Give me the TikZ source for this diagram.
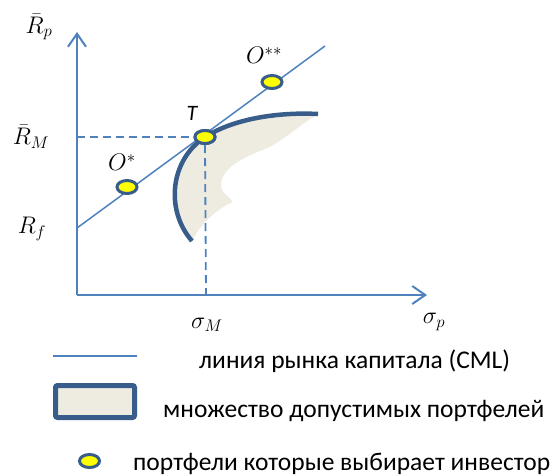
\RequirePackage{fix-cm}
\documentclass[tikz,border=0pt]{standalone}
\usepackage{fontspec}
\setmainfont{Carlito}
\usetikzlibrary{positioning, arrows.meta, shapes.geometric}
\definecolor{axisblue}{RGB}{79, 129, 189}
\definecolor{frontier}{RGB}{56, 93, 138}
\definecolor{feasible}{RGB}{238, 236, 225}
\definecolor{dotyellow}{RGB}{255, 255, 0}

\begin{document}
\begin{tikzpicture}[
            x=1pt, y=-1pt,
            axis/.style={axisblue, line width=2pt, -{Straight Barb[length=13pt, width=18pt]}},
            cml/.style={axisblue, line width=1.5pt},
            guide/.style={axisblue, line width=1.8pt, dash pattern=on 8pt off 5pt},
            portfolio/.style={ellipse, draw=frontier, line width=3pt, fill=dotyellow, minimum width=20pt, minimum height=13pt, inner sep=0pt},
            mathlabel/.style={font=\fontsize{24}{28}\selectfont, inner sep=0pt},
            legendtext/.style={font=\fontsize{25.5}{30}\selectfont, anchor=base west, inner sep=0pt}
        ]
            \useasboundingbox (0,0) rectangle (560,475);
            % axes
            \coordinate (origin) at (77,295);
            \coordinate (ytip) at (77,32);
            \coordinate (xtip) at (427,295);
            \coordinate (rf) at (77,228);
            \coordinate (cmlend) at (325,46);
            \coordinate (rm) at (77,137);
            \coordinate (sm) at (206,295);
            \draw [axis] (origin) -- (ytip);
            \draw [axis] (origin) -- (xtip);

            % feasible set
            \fill [feasible] (192,241) .. controls (165,210) and (170,160) .. (205,137)
                .. controls (235,118) and (280,112) .. (318,114)
                .. controls (300,125) and (290,135) .. (270,147)
                .. controls (250,155) and (222,165) .. (221,185)
                .. controls (221,196) and (236,199) .. (231,203)
                .. controls (215,210) and (200,225) .. (192,241) -- cycle;
            \draw [frontier, line width=4.5pt] (192,241) .. controls (165,210) and (170,160) .. (205,137)
                .. controls (235,118) and (280,112) .. (318,114);

            % capital market line
            \draw [cml] (rf) -- (cmlend);
            \node[portfolio] (T) at (205,137) {};
            \node[portfolio] (ostar) at (127,187) {};
            \node[portfolio] (ostarstar) at (272,82) {};
            \draw [guide] (rm) -- (T.west);
            \draw [guide] (T.south) -- (sm);
            \node[portfolio] at (T) {};

            % labels
            \node[mathlabel] (lrp) at (39,27) {$\bar{R}_p$};
            \node[mathlabel] (lrm) at (31,137) {$\bar{R}_M$};
            \node[mathlabel] (lrf) at (32,229) {$R_f$};
            \node[mathlabel] (lsp) at (434,322) {$\sigma_p$};
            \node[mathlabel] (lsm) at (207,325) {$\sigma_M$};
            \node[mathlabel, above=8pt of ostar, xshift=-5pt] (lostar) {$O^{*}$};
            \node[mathlabel, above=10pt of ostarstar, xshift=-8pt] (lostarstar) {$O^{**}$};
            \node[font=\fontsize{22}{26}\selectfont\itshape, inner sep=0pt, above=8pt of T, xshift=-13pt] (lT) {T};

            % legend
            \coordinate (legstart) at (53,356);
            \coordinate (legend) at (137,356);
            \draw [cml, line width=2.5pt] (legstart) -- (legend);
            \node[legendtext] (txtcml) at (199,368) {линия рынка капитала (CML)};
            \node[draw=frontier, line width=5pt, fill=feasible, rounded corners=2pt, minimum width=79pt, minimum height=32pt] (legset) at (95,401.5) {};
            \node[legendtext] (txtset) at (163,417) {множество допустимых портфелей};
            \node[portfolio] (legdot) at (89.5,461) {};
            \node[legendtext] (txtdot) at (133,470) {портфели которые выбирает инвестор};
        \end{tikzpicture}
\end{document}
